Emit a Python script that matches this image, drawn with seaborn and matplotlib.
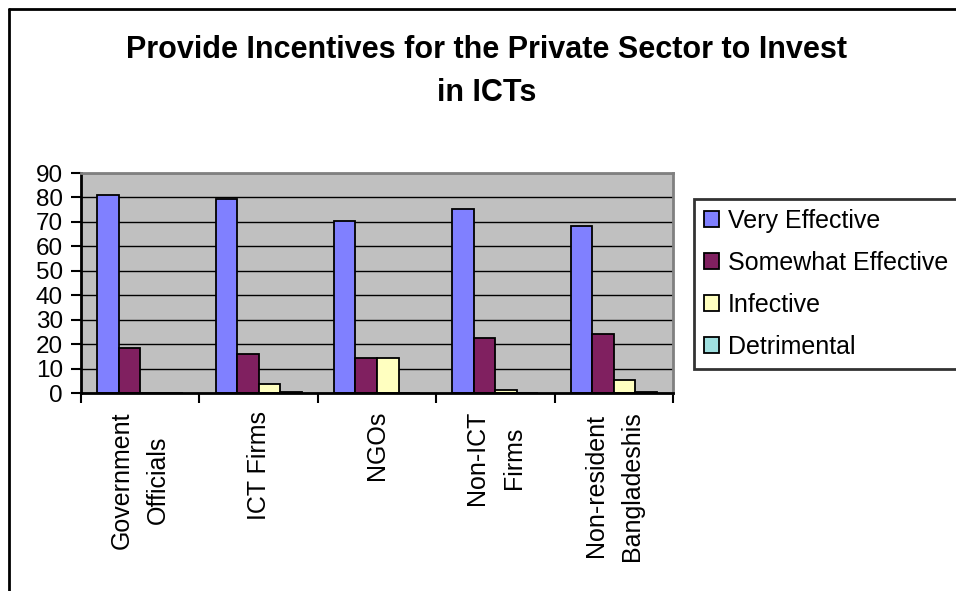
import pandas as pd
import matplotlib.pyplot as plt
import seaborn as sns
from matplotlib.lines import Line2D

# Chart data
groups = ["Government\nOfficials", "ICT Firms", "NGOs", "Non-ICT\nFirms",
          "Non-resident\nBangladeshis"]
responses = ["Very Effective", "Somewhat Effective", "Infective", "Detrimental"]
very_effective = [81, 79.3, 70.2, 75.2, 68.5]
somewhat_effective = [18.5, 16.1, 14.5, 22.6, 24.3]
infective = [0, 3.8, 14.5, 1.3, 5.4]
detrimental = [0, 0.5, 0, 0, 0.4]
colors = ["#8080FF", "#802060", "#FFFFC0", "#A0E0E0"]

# Long-form table for seaborn
df = pd.DataFrame({
    "group": groups * 4,
    "response": [r for r in responses for _ in groups],
    "value": very_effective + somewhat_effective + infective + detrimental,
})

sns.set_theme(style="white")
plt.rcParams["font.family"] = ["Liberation Sans", "DejaVu Sans"]
plt.rcParams["text.color"] = "black"
plt.rcParams["xtick.color"] = "black"
plt.rcParams["ytick.color"] = "black"
plt.rcParams["axes.labelcolor"] = "black"

fig = plt.figure(figsize=(9.56, 5.91), dpi=100)
ax = fig.add_axes([81 / 956, 1 - 393 / 591, 592 / 956, 220 / 591])
ax.set_facecolor("#C0C0C0")

sns.barplot(data=df, x="group", y="value", hue="response", order=groups,
            hue_order=responses, palette=colors, saturation=1, width=0.727,
            edgecolor="black", linewidth=1.3, ax=ax)
handles, labels = ax.get_legend_handles_labels()
ax.get_legend().remove()

# Axes formatting
ax.set_xlim(-0.5, len(groups) - 0.5)
ax.set_ylim(0, 90)
ax.set_yticks(range(0, 91, 10))
ax.yaxis.grid(True, color="black", linewidth=1)
ax.set_axisbelow(True)
ax.set_xlabel("")
ax.set_ylabel("")
ax.tick_params(axis="y", labelsize=17.5, length=7, width=1.5,
               direction="out", pad=6, left=True)
ax.set_xticks(range(len(groups)))
ax.set_xticklabels(groups, rotation=90, fontsize=18, va="top", ha="center",
                   multialignment="center", linespacing=1.65)
ax.tick_params(axis="x", which="major", length=0, pad=13)
ax.set_xticks([i - 0.5 for i in range(len(groups) + 1)], minor=True)
ax.tick_params(axis="x", which="minor", length=7, width=1.5,
               direction="out", bottom=True)
for side in ["left", "bottom"]:
    ax.spines[side].set_color("black")
    ax.spines[side].set_linewidth(2)
for side in ["top", "right"]:
    ax.spines[side].set_color("#808080")
    ax.spines[side].set_linewidth(2)

# Title
fig.text(0.509, 1 - 35 / 591,
         "Provide Incentives for the Private Sector to Invest\nin ICTs",
         ha="center", va="top", fontsize=22, fontweight="bold",
         linespacing=1.55)

# Legend
leg = fig.legend(handles, labels, loc="upper left",
                 bbox_to_anchor=(694 / 956, 1 - 199 / 591), fontsize=18,
                 frameon=True, fancybox=False, edgecolor="black",
                 handlelength=0.6, handleheight=0.6, handletextpad=0.35,
                 labelspacing=0.72, borderpad=0.4, borderaxespad=0)
leg.get_frame().set_linewidth(2)

# Outer chart border (left and top visible)
fig.add_artist(Line2D([9 / 956, 9 / 956], [0, 1 - 9 / 591], color="black",
                      linewidth=2, transform=fig.transFigure))
fig.add_artist(Line2D([9 / 956, 1], [1 - 9 / 591, 1 - 9 / 591], color="black",
                      linewidth=2, transform=fig.transFigure))

fig.savefig("out.png", dpi=100)
